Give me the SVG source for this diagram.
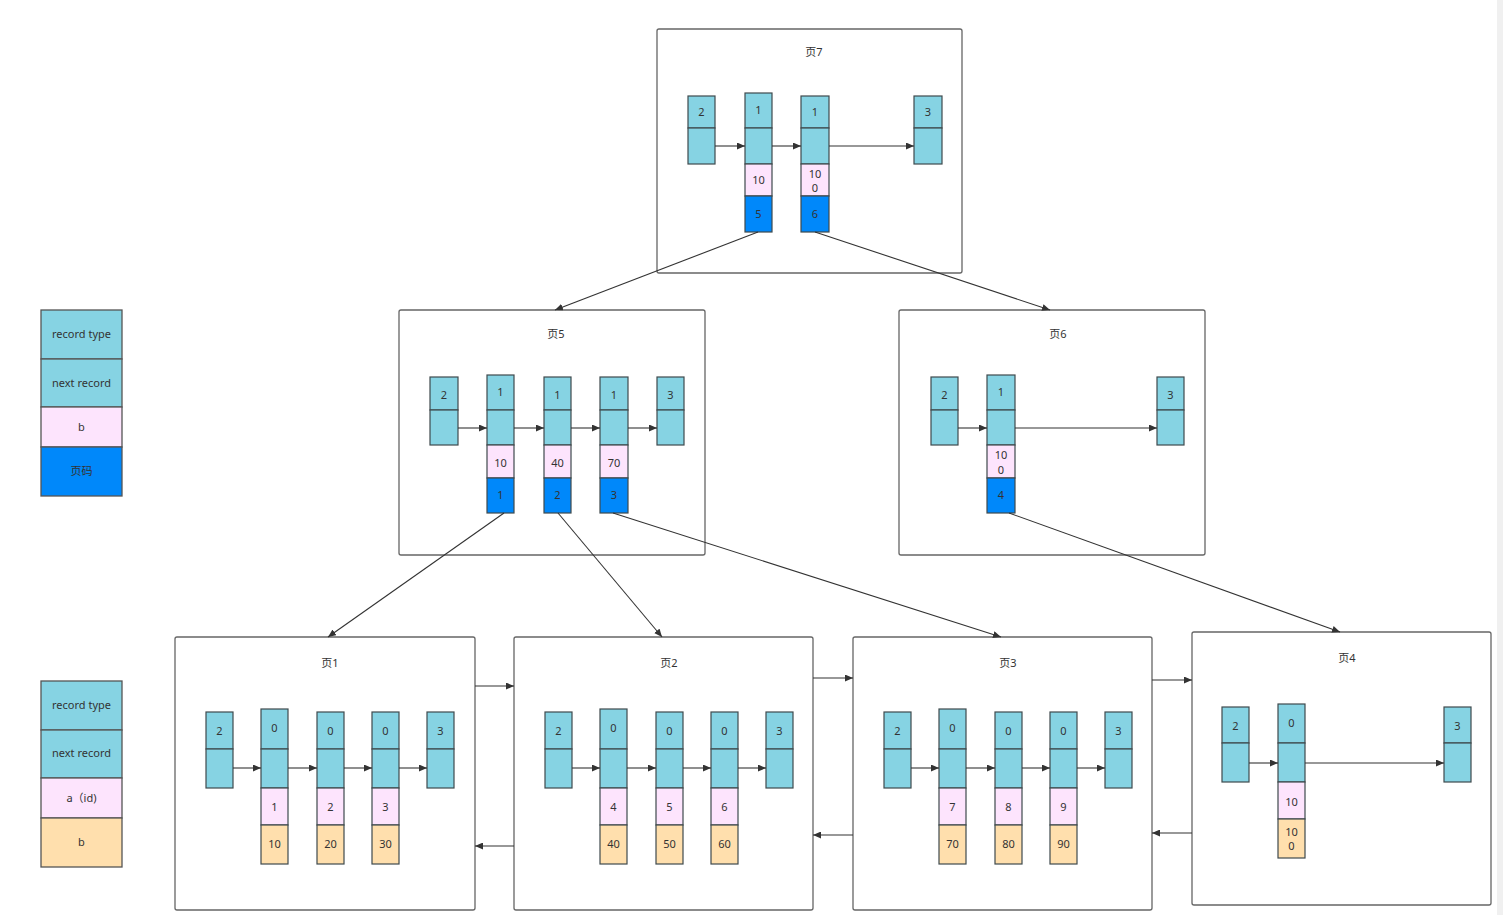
<svg xmlns="http://www.w3.org/2000/svg" width="1503" height="915" viewBox="0 0 1503 915">
<style>
.bg{fill:#ffffff}
.page{fill:#ffffff;stroke:#666666;stroke-width:1.3}
.t{fill:#86d3e3;stroke:#3f4a4d;stroke-width:1.2}
.p{fill:#fde4fd;stroke:#3f4a4d;stroke-width:1.2}
.b{fill:#0088fa;stroke:#3f4a4d;stroke-width:1.2}
.o{fill:#ffdfad;stroke:#3f4a4d;stroke-width:1.2}
.lg{stroke:#555555;stroke-width:1.3}
text{font-family:"Noto Sans","Noto Sans CJK SC",sans-serif;font-size:11px;fill:#333333;text-anchor:middle;dominant-baseline:central;transform:translateY(-1px)}
.c line{stroke:#333333;stroke-width:1.1;fill:none}
.a{marker-end:url(#ah)}
</style>
<defs>
<marker id="ah" markerWidth="9" markerHeight="7" refX="8" refY="3.5" orient="auto" markerUnits="userSpaceOnUse">
<path d="M0,0 L8,3.5 L0,7 z" fill="#333333"/>
</marker>
</defs>
<rect class="bg" x="0" y="0" width="1503" height="915"/>
<rect x="1497" y="0" width="6" height="915" fill="#f0f0f0"/>

<g id="legend1">
<rect class="t lg" x="41" y="310" width="81" height="49"/>
<rect class="t lg" x="41" y="359" width="81" height="48"/>
<rect class="p lg" x="41" y="407" width="81" height="40"/>
<rect class="b lg" x="41" y="447" width="81" height="49"/>
<text x="81.5" y="334">record type</text>
<text x="81.5" y="383">next record</text>
<text x="81.5" y="427">b</text>
<text x="81.5" y="471">页码</text>
</g>

<g id="legend2">
<rect class="t lg" x="41" y="681" width="81" height="49"/>
<rect class="t lg" x="41" y="730" width="81" height="48"/>
<rect class="p lg" x="41" y="778" width="81" height="40"/>
<rect class="o lg" x="41" y="818" width="81" height="49"/>
<text x="81.5" y="705">record type</text>
<text x="81.5" y="753">next record</text>
<text x="81.5" y="798">a（id)</text>
<text x="81.5" y="842">b</text>
</g>

<g id="page7">
<rect class="page" x="657" y="29" width="305" height="244" rx="2"/>
<text x="814" y="52">页7</text>
<rect class="t" x="688" y="96" width="27" height="32"/>
<rect class="t" x="688" y="128" width="27" height="36"/>
<rect class="t" x="745" y="93" width="27" height="35"/>
<rect class="t" x="745" y="128" width="27" height="36"/>
<rect class="p" x="745" y="164" width="27" height="32"/>
<rect class="b" x="745" y="196" width="27" height="36"/>
<rect class="t" x="801" y="96" width="28" height="32"/>
<rect class="t" x="801" y="128" width="28" height="36"/>
<rect class="p" x="801" y="164" width="28" height="32"/>
<rect class="b" x="801" y="196" width="28" height="36"/>
<rect class="t" x="914" y="96" width="28" height="32"/>
<rect class="t" x="914" y="128" width="28" height="36"/>
<text x="701.5" y="112">2</text>
<text x="758.5" y="110">1</text>
<text x="815" y="112">1</text>
<text x="928" y="112">3</text>
<text x="758.5" y="180">10</text>
<text x="815" y="174">10</text>
<text x="815" y="188">0</text>
<text x="758.5" y="214">5</text>
<text x="815" y="214">6</text>
</g>

<g id="page5">
<rect class="page" x="399" y="310" width="306" height="245" rx="2"/>
<text x="556" y="334">页5</text>
<rect class="t" x="430" y="377" width="28" height="33"/>
<rect class="t" x="430" y="410" width="28" height="35"/>
<rect class="t" x="487" y="375" width="27" height="35"/>
<rect class="t" x="487" y="410" width="27" height="35"/>
<rect class="p" x="487" y="445" width="27" height="33"/>
<rect class="b" x="487" y="478" width="27" height="35"/>
<rect class="t" x="544" y="377" width="27" height="33"/>
<rect class="t" x="544" y="410" width="27" height="35"/>
<rect class="p" x="544" y="445" width="27" height="33"/>
<rect class="b" x="544" y="478" width="27" height="35"/>
<rect class="t" x="600" y="377" width="28" height="33"/>
<rect class="t" x="600" y="410" width="28" height="35"/>
<rect class="p" x="600" y="445" width="28" height="33"/>
<rect class="b" x="600" y="478" width="28" height="35"/>
<rect class="t" x="657" y="377" width="27" height="33"/>
<rect class="t" x="657" y="410" width="27" height="35"/>
<text x="444" y="395">2</text>
<text x="500.5" y="392">1</text>
<text x="557.5" y="395">1</text>
<text x="614" y="395">1</text>
<text x="670.5" y="395">3</text>
<text x="500.5" y="463">10</text>
<text x="557.5" y="463">40</text>
<text x="614" y="463">70</text>
<text x="500.5" y="495">1</text>
<text x="557.5" y="495">2</text>
<text x="614" y="495">3</text>
</g>

<g id="page6">
<rect class="page" x="899" y="310" width="306" height="245" rx="2"/>
<text x="1058" y="334">页6</text>
<rect class="t" x="931" y="377" width="27" height="33"/>
<rect class="t" x="931" y="410" width="27" height="35"/>
<rect class="t" x="987" y="375" width="28" height="35"/>
<rect class="t" x="987" y="410" width="28" height="35"/>
<rect class="p" x="987" y="445" width="28" height="33"/>
<rect class="b" x="987" y="478" width="28" height="35"/>
<rect class="t" x="1157" y="377" width="27" height="33"/>
<rect class="t" x="1157" y="410" width="27" height="35"/>
<text x="944.5" y="395">2</text>
<text x="1001" y="392">1</text>
<text x="1170.5" y="395">3</text>
<text x="1001" y="455">10</text>
<text x="1001" y="470">0</text>
<text x="1001" y="495">4</text>
</g>

<g id="page1">
<rect class="page" x="175" y="637" width="300" height="273" rx="2"/>
<text x="330" y="663">页1</text>
<rect class="t" x="206" y="712" width="27" height="37"/>
<rect class="t" x="206" y="749" width="27" height="39"/>
<rect class="t" x="261" y="709" width="27" height="40"/>
<rect class="t" x="261" y="749" width="27" height="39"/>
<rect class="p" x="261" y="788" width="27" height="37"/>
<rect class="o" x="261" y="825" width="27" height="39"/>
<rect class="t" x="317" y="712" width="27" height="37"/>
<rect class="t" x="317" y="749" width="27" height="39"/>
<rect class="p" x="317" y="788" width="27" height="37"/>
<rect class="o" x="317" y="825" width="27" height="39"/>
<rect class="t" x="372" y="712" width="27" height="37"/>
<rect class="t" x="372" y="749" width="27" height="39"/>
<rect class="p" x="372" y="788" width="27" height="37"/>
<rect class="o" x="372" y="825" width="27" height="39"/>
<rect class="t" x="427" y="712" width="27" height="37"/>
<rect class="t" x="427" y="749" width="27" height="39"/>
<text x="219.5" y="731">2</text>
<text x="274.5" y="728">0</text>
<text x="330.5" y="731">0</text>
<text x="385.5" y="731">0</text>
<text x="440.5" y="731">3</text>
<text x="274.5" y="807">1</text>
<text x="330.5" y="807">2</text>
<text x="385.5" y="807">3</text>
<text x="274.5" y="844">10</text>
<text x="330.5" y="844">20</text>
<text x="385.5" y="844">30</text>
</g>

<g id="page2">
<rect class="page" x="514" y="637" width="299" height="273" rx="2"/>
<text x="669" y="663">页2</text>
<rect class="t" x="545" y="712" width="27" height="37"/>
<rect class="t" x="545" y="749" width="27" height="39"/>
<rect class="t" x="600" y="709" width="27" height="40"/>
<rect class="t" x="600" y="749" width="27" height="39"/>
<rect class="p" x="600" y="788" width="27" height="37"/>
<rect class="o" x="600" y="825" width="27" height="39"/>
<rect class="t" x="656" y="712" width="27" height="37"/>
<rect class="t" x="656" y="749" width="27" height="39"/>
<rect class="p" x="656" y="788" width="27" height="37"/>
<rect class="o" x="656" y="825" width="27" height="39"/>
<rect class="t" x="711" y="712" width="27" height="37"/>
<rect class="t" x="711" y="749" width="27" height="39"/>
<rect class="p" x="711" y="788" width="27" height="37"/>
<rect class="o" x="711" y="825" width="27" height="39"/>
<rect class="t" x="766" y="712" width="27" height="37"/>
<rect class="t" x="766" y="749" width="27" height="39"/>
<text x="558.5" y="731">2</text>
<text x="613.5" y="728">0</text>
<text x="669.5" y="731">0</text>
<text x="724.5" y="731">0</text>
<text x="779.5" y="731">3</text>
<text x="613.5" y="807">4</text>
<text x="669.5" y="807">5</text>
<text x="724.5" y="807">6</text>
<text x="613.5" y="844">40</text>
<text x="669.5" y="844">50</text>
<text x="724.5" y="844">60</text>
</g>

<g id="page3">
<rect class="page" x="853" y="637" width="299" height="273" rx="2"/>
<text x="1008" y="663">页3</text>
<rect class="t" x="884" y="712" width="27" height="37"/>
<rect class="t" x="884" y="749" width="27" height="39"/>
<rect class="t" x="939" y="709" width="27" height="40"/>
<rect class="t" x="939" y="749" width="27" height="39"/>
<rect class="p" x="939" y="788" width="27" height="37"/>
<rect class="o" x="939" y="825" width="27" height="39"/>
<rect class="t" x="995" y="712" width="27" height="37"/>
<rect class="t" x="995" y="749" width="27" height="39"/>
<rect class="p" x="995" y="788" width="27" height="37"/>
<rect class="o" x="995" y="825" width="27" height="39"/>
<rect class="t" x="1050" y="712" width="27" height="37"/>
<rect class="t" x="1050" y="749" width="27" height="39"/>
<rect class="p" x="1050" y="788" width="27" height="37"/>
<rect class="o" x="1050" y="825" width="27" height="39"/>
<rect class="t" x="1105" y="712" width="27" height="37"/>
<rect class="t" x="1105" y="749" width="27" height="39"/>
<text x="897.5" y="731">2</text>
<text x="952.5" y="728">0</text>
<text x="1008.5" y="731">0</text>
<text x="1063.5" y="731">0</text>
<text x="1118.5" y="731">3</text>
<text x="952.5" y="807">7</text>
<text x="1008.5" y="807">8</text>
<text x="1063.5" y="807">9</text>
<text x="952.5" y="844">70</text>
<text x="1008.5" y="844">80</text>
<text x="1063.5" y="844">90</text>
</g>

<g id="page4">
<rect class="page" x="1192" y="632" width="299" height="273" rx="2"/>
<text x="1347" y="658">页4</text>
<rect class="t" x="1222" y="707" width="27" height="36"/>
<rect class="t" x="1222" y="743" width="27" height="39"/>
<rect class="t" x="1278" y="704" width="27" height="39"/>
<rect class="t" x="1278" y="743" width="27" height="39"/>
<rect class="p" x="1278" y="782" width="27" height="37"/>
<rect class="o" x="1278" y="819" width="27" height="39"/>
<rect class="t" x="1444" y="707" width="27" height="36"/>
<rect class="t" x="1444" y="743" width="27" height="39"/>
<text x="1235.5" y="726">2</text>
<text x="1291.5" y="723">0</text>
<text x="1457.5" y="726">3</text>
<text x="1291.5" y="802">10</text>
<text x="1291.5" y="832">10</text>
<text x="1291.5" y="846">0</text>
</g>

<g id="connectors" class="c">
<line class="a" x1="715" y1="146" x2="745" y2="146"/>
<line class="a" x1="772" y1="146" x2="801" y2="146"/>
<line class="a" x1="829" y1="146" x2="914" y2="146"/>
<line class="a" x1="458" y1="428" x2="487" y2="428"/>
<line class="a" x1="514" y1="428" x2="544" y2="428"/>
<line class="a" x1="571" y1="428" x2="600" y2="428"/>
<line class="a" x1="628" y1="428" x2="657" y2="428"/>
<line class="a" x1="958" y1="428" x2="987" y2="428"/>
<line class="a" x1="1015" y1="428" x2="1157" y2="428"/>
<line class="a" x1="233" y1="768" x2="261" y2="768"/>
<line class="a" x1="288" y1="768" x2="317" y2="768"/>
<line class="a" x1="344" y1="768" x2="372" y2="768"/>
<line class="a" x1="399" y1="768" x2="427" y2="768"/>
<line class="a" x1="572" y1="768" x2="600" y2="768"/>
<line class="a" x1="627" y1="768" x2="656" y2="768"/>
<line class="a" x1="683" y1="768" x2="711" y2="768"/>
<line class="a" x1="738" y1="768" x2="766" y2="768"/>
<line class="a" x1="911" y1="768" x2="939" y2="768"/>
<line class="a" x1="966" y1="768" x2="995" y2="768"/>
<line class="a" x1="1022" y1="768" x2="1050" y2="768"/>
<line class="a" x1="1077" y1="768" x2="1105" y2="768"/>
<line class="a" x1="1249" y1="763" x2="1278" y2="763"/>
<line class="a" x1="1305" y1="763" x2="1444" y2="763"/>
<line class="a" x1="758" y1="232" x2="555" y2="310"/>
<line class="a" x1="815" y1="232" x2="1050" y2="310"/>
<line class="a" x1="504" y1="513" x2="328" y2="637"/>
<line class="a" x1="558" y1="513" x2="662" y2="637"/>
<line class="a" x1="613" y1="513" x2="1001" y2="637"/>
<line class="a" x1="1009" y1="513" x2="1340" y2="632"/>
<line class="a" x1="475" y1="686" x2="514" y2="686"/>
<line class="a" x1="514" y1="846" x2="475" y2="846"/>
<line class="a" x1="813" y1="678" x2="853" y2="678"/>
<line class="a" x1="853" y1="835" x2="813" y2="835"/>
<line class="a" x1="1152" y1="680" x2="1192" y2="680"/>
<line class="a" x1="1192" y1="833" x2="1152" y2="833"/>
</g>
</svg>
